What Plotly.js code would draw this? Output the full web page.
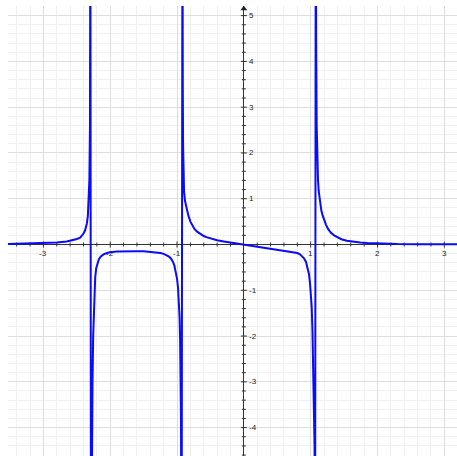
<!DOCTYPE html>
<html>
<head>
<meta charset="utf-8">
<script src="https://cdn.plot.ly/plotly-3.0.1.min.js"></script>
<style>html,body{margin:0;padding:0;background:#fff;}#chart{width:457px;height:456px;}</style>
</head>
<body>
<div id="chart"></div>
<script>
// Curve values, branch by branch (left to right)
const branch1X = [-3.53, -3.3, -3.0, -2.8, -2.65, -2.55, -2.5, -2.45, -2.42, -2.40, -2.376, -2.35, -2.335, -2.322, -2.312, -2.303, -2.297];
const branch1Y = [0.012, 0.018, 0.03, 0.045, 0.065, 0.095, 0.12, 0.15, 0.2, 0.24, 0.31, 0.46, 0.62, 0.95, 1.41, 2.6, 8];

const branch2X = [-2.288, -2.275, -2.265, -2.255, -2.245, -2.235, -2.225, -2.21, -2.19, -2.17, -2.14, -2.1, -2.05, -2.0, -1.9, -1.8, -1.7, -1.6, -1.5, -1.4, -1.3, -1.25, -1.2, -1.15, -1.12, -1.09, -1.06, -1.04, -1.02, -1.0, -0.985, -0.972, -0.962, -0.954, -0.947, -0.941, -0.932];
const branch2Y = [-8, -4.2, -3.0, -2.0, -1.35, -0.95, -0.72, -0.52, -0.4, -0.32, -0.26, -0.215, -0.185, -0.168, -0.153, -0.147, -0.145, -0.146, -0.15, -0.158, -0.172, -0.185, -0.205, -0.235, -0.265, -0.31, -0.38, -0.46, -0.58, -0.75, -0.95, -1.25, -1.6, -2.1, -2.8, -3.8, -8];

const branch3X = [-0.919, -0.914, -0.91, -0.905, -0.895, -0.88, -0.865, -0.854, -0.83, -0.8, -0.77, -0.74, -0.7, -0.655, -0.6, -0.55, -0.5, -0.4, -0.3, -0.2, -0.1, 0, 0.2, 0.4, 0.6, 0.7, 0.75, 0.8, 0.84, 0.87, 0.9, 0.93, 0.955, 0.975, 0.99, 1.003, 1.015, 1.027, 1.038, 1.048, 1.058, 1.066];
const branch3Y = [8, 3.5, 2.2, 1.5, 1.15, 0.95, 0.84, 0.77, 0.63, 0.5, 0.41, 0.34, 0.28, 0.23, 0.185, 0.155, 0.13, 0.092, 0.068, 0.045, 0.023, 0, -0.047, -0.094, -0.135, -0.157, -0.17, -0.186, -0.215, -0.25, -0.3, -0.38, -0.5, -0.65, -0.85, -1.05, -1.35, -1.9, -2.6, -3.4, -4.4, -8];

const branch4X = [1.076, 1.082, 1.09, 1.10, 1.11, 1.12, 1.13, 1.14, 1.16, 1.18, 1.2, 1.23, 1.26, 1.3, 1.35, 1.4, 1.46, 1.54, 1.64, 1.74, 1.85, 2.0, 2.3, 2.6, 3.0, 3.2];
const branch4Y = [8, 4.5, 2.6, 1.8, 1.4, 1.17, 1.02, 0.9, 0.74, 0.63, 0.54, 0.43, 0.34, 0.26, 0.2, 0.155, 0.115, 0.082, 0.06, 0.046, 0.035, 0.025, 0.013, 0.008, 0.004, 0.003];

const xTickLabels = [-3, -2, -1, 1, 2, 3];
const yTickLabels = [-4, -3, -2, -1, 1, 2, 3, 4, 5];

const X_RANGE = [-3.53, 3.19];
const Y_RANGE = [-4.62, 5.21];
const W = 457, H = 456, ML = 8, MT = 6;
const pxX = (W - ML) / (X_RANGE[1] - X_RANGE[0]);
const pxY = (H - MT) / (Y_RANGE[1] - Y_RANGE[0]);

// axis tick marks (every 0.2)
const tX = [], tY = [];
for (let i = -17; i <= 16; i++) {
  if (i === 0) continue;
  const v = i / 5;
  const h = (i % 5 === 0 ? 3 : 2) / pxY;
  tX.push(v, v, null); tY.push(-h, h, null);
}
for (let i = -23; i <= 25; i++) {
  if (i === 0) continue;
  const v = i / 5;
  const w = (i % 5 === 0 ? 3 : 2) / pxX;
  tX.push(-w, w, null); tY.push(v, v, null);
}

const curveX = [].concat(branch1X, branch2X, branch3X, branch4X);
const curveY = [].concat(branch1Y, branch2Y, branch3Y, branch4Y);

const traces = [
  {x: tX, y: tY, mode: 'lines', line: {color: '#333', width: 1}, hoverinfo: 'skip', showlegend: false},
  {x: [0], y: [5.15], mode: 'markers', marker: {symbol: 'triangle-up', size: 6, color: '#222'}, cliponaxis: false, hoverinfo: 'skip', showlegend: false},
  {x: curveX, y: curveY, mode: 'lines', line: {color: '#0a0aff', width: 2}, showlegend: false}
];

const annotations = [];
xTickLabels.forEach(v => annotations.push({
  x: v, y: 0, xref: 'x', yref: 'y', text: String(v), showarrow: false,
  xanchor: 'center', yanchor: 'top', yshift: -2,
  font: {family: 'Liberation Sans, Arial, sans-serif', size: 8, color: '#222'}
}));
yTickLabels.forEach(v => annotations.push({
  x: 0, y: v, xref: 'x', yref: 'y', text: String(v), showarrow: false,
  xanchor: 'left', yanchor: 'middle', xshift: 3,
  font: {family: 'Liberation Sans, Arial, sans-serif', size: 8, color: '#222'}
}));

const axisCommon = {
  showticklabels: false, ticks: '', dtick: 1, tick0: 0,
  showgrid: true, gridcolor: '#dedede', gridwidth: 1,
  minor: {dtick: 0.2, tick0: 0, showgrid: true, gridcolor: '#f1f1f1', gridwidth: 1, ticks: ''},
  zeroline: true, zerolinecolor: '#333', zerolinewidth: 1,
  showline: false, fixedrange: true
};

const layout = {
  width: W, height: H,
  margin: {l: ML, r: 0, t: MT, b: 0, pad: 0},
  paper_bgcolor: '#fff', plot_bgcolor: '#fff',
  xaxis: Object.assign({}, axisCommon, {range: X_RANGE}),
  yaxis: Object.assign({}, axisCommon, {range: Y_RANGE}),
  annotations: annotations,
  showlegend: false
};

Plotly.newPlot('chart', traces, layout, {displayModeBar: false, staticPlot: true});
</script>
</body>
</html>
